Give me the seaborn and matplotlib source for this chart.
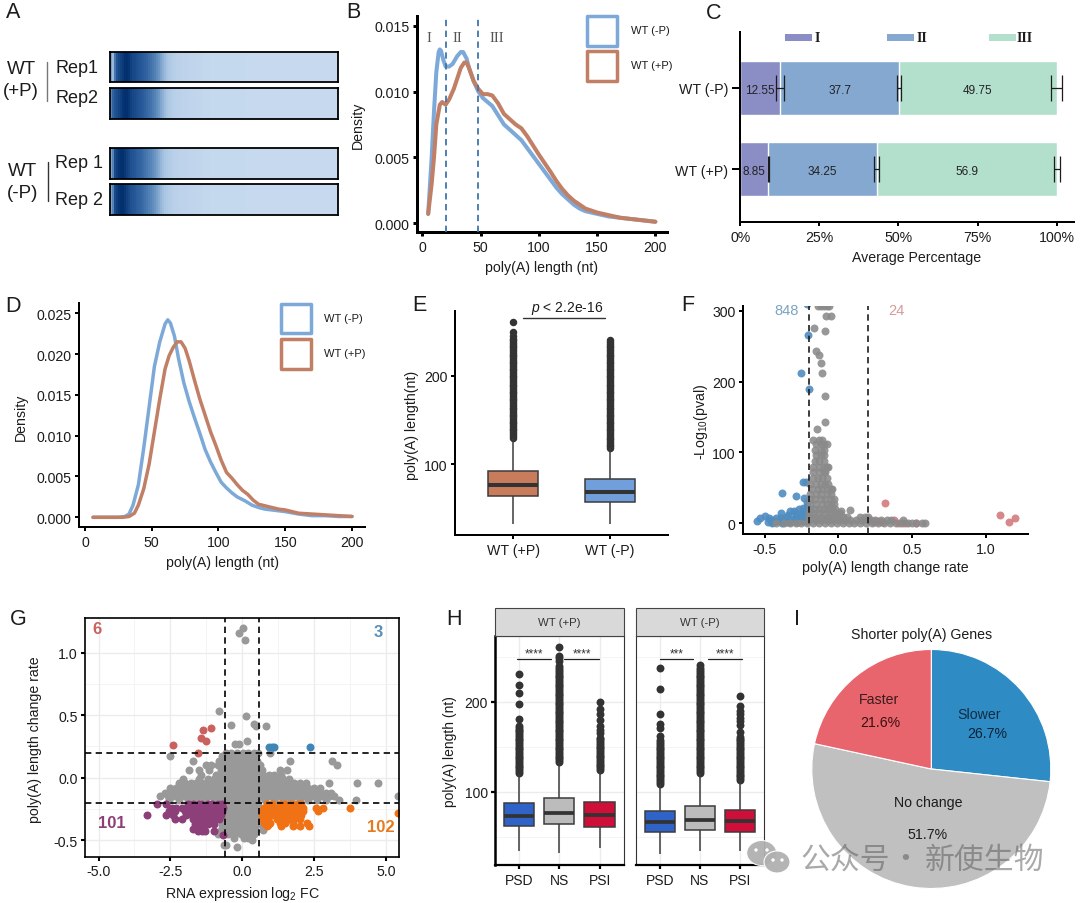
import numpy as np
import pandas as pd
import matplotlib
matplotlib.use("Agg")
import matplotlib.pyplot as plt
from matplotlib.colors import LinearSegmentedColormap
from matplotlib.patches import Rectangle, Ellipse
from matplotlib.transforms import Affine2D
import seaborn as sns

W, H = 1080, 904
sns.set_theme(style="ticks")
plt.rcParams["font.family"] = ["Liberation Sans", "DejaVu Sans"]
plt.rcParams["mathtext.fontset"] = "custom"
plt.rcParams["mathtext.rm"] = "Liberation Sans"
plt.rcParams["mathtext.it"] = "Liberation Sans:italic"
plt.rcParams["mathtext.bf"] = "Liberation Sans:bold"
plt.rcParams["text.color"] = "#1c1c1c"
plt.rcParams["axes.labelcolor"] = "#1c1c1c"
plt.rcParams["xtick.labelcolor"] = "#1c1c1c"
plt.rcParams["ytick.labelcolor"] = "#1c1c1c"

BLUE = "#7da9d9"
BROWN = "#c17f65"

# ---------- A: tail-length heat strips (2 nt-wide cells along the strip) ----------
heat_head_a = [.42, .30, .62, .80, .86, .90, .94, 1.0, 1.0, .97, .90, .87, .85, .83, .80, .78, .75, .73, .70,
               .67, .64, .60, .56, .51, .46, .40, .35, .30, .26, .22, .19, .16, .14, .12, .11, .10]
heat_head_b = [.55, .72, .80, .84, .88, .92, .97, 1.0, 1.0, .96, .90, .87, .85, .83, .80, .78, .75, .72, .69,
               .66, .63, .59, .55, .50, .45, .39, .34, .29, .25, .21, .18, .15, .13, .12, .11, .10]
heat_head_c = [.40, .55, .85, .92, .97, 1.0, 1.0, .96, .90, .86, .82, .80, .77, .74, .72, .70, .67, .64, .60,
               .57, .54, .50, .46, .42, .37, .32, .28, .24, .21, .18, .16, .14, .12, .11, .10, .09]
heat_tail = [.09, .09, .08, .08, .07, .07, .07, .06, .06, .06, .05, .05, .05, .05, .04, .04, .04, .04, .04, .04,
             .03, .03, .03, .03, .03, .03, .03, .03, .03, .03, .03, .03, .02, .02, .02, .02, .02, .02, .02, .02,
             .02, .02, .02, .02, .02, .02, .02, .02, .02, .02, .02, .02, .02, .02, .02, .02, .02, .02, .02, .02,
             .02, .02, .02, .02, .02, .02, .02, .02, .02, .02, .02, .02, .02, .02, .02, .02, .02, .02]
heat_rows = [heat_head_a, heat_head_b, heat_head_c, heat_head_c]

# ---------- B: global density ----------
b_x_minus = [5, 8, 10, 12, 14, 15, 16, 18, 20, 23, 26, 30, 33, 35, 38, 40, 44, 48, 52, 56, 60, 65, 70, 75, 80, 85,
             90, 95, 100, 105, 110, 115, 120, 125, 130, 135, 140, 145, 150, 160, 170, 180, 190, 200]
b_y_minus = [.0007, .005, .0085, .0115, .0130, .0132, .0131, .0124, .0119, .0119, .0121, .0127, .0130, .0130,
             .0125, .0118, .0108, .0100, .0095, .0092, .0089, .0082, .0075, .0071, .0067, .0063, .0057, .0051, .0045,
             .0039, .0033, .0027, .0022, .0018, .0014, .0011, .0009, .0008, .0007, .0005, .0004, .0003, .0002, .0001]
b_x_plus = [5, 8, 10, 12, 15, 17, 20, 23, 27, 30, 33, 36, 38, 40, 44, 48, 52, 56, 60, 65, 70, 75, 80, 85, 90, 95, 100,
            105, 110, 115, 120, 125, 130, 135, 140, 145, 150, 160, 170, 180, 190, 200]
b_y_plus = [.0007, .003, .005, .0075, .0090, .0092, .0090, .0094, .0102, .0110, .0118, .0122, .0122, .0118, .0108,
            .0102, .0098, .0098, .0097, .0091, .0083, .0079, .0075, .0072, .0066, .0059, .0052, .00455, .0039, .0032,
            .0026, .0021, .0017, .0014, .0011, .00095, .0008, .0006, .0004, .0003, .0002, .0001]

# ---------- C: stacked percentage of tail classes ----------
c_conditions = ["WT (-P)", "WT (+P)"]
c_class_i = [12.55, 8.85]
c_class_ii = [37.7, 34.25]
c_class_iii = [49.75, 56.9]
c_err_i = [1.27, 0.2]
c_err_ii = [0.58, 0.8]
c_err_iii = [1.8, 0.95]

# ---------- D: density after filtering ----------
d_x_minus = [6, 25, 30, 33, 36, 40, 44, 48, 52, 56, 60, 62, 64, 67, 70, 74, 78, 82, 86, 90, 94, 98, 102, 106, 110,
             114, 120, 125, 130, 135, 140, 145, 150, 160, 170, 180, 190, 200]
d_y_minus = [0, 0, .0001, .0004, .0015, .004, .0085, .0135, .0185, .0215, .0237, .0242, .0238, .0222, .0195, .0165,
             .0142, .0122, .0103, .0083, .0068, .0055, .0043, .0036, .003, .0025, .002, .0015, .0012, .001, .0009,
             .0008, .0007, .0004, .0002, .0002, .0001, .0001]
d_x_plus = [6, 28, 33, 37, 40, 44, 48, 52, 56, 60, 63, 66, 69, 72, 75, 78, 82, 86, 90, 94, 98, 102, 106, 110, 114,
            118, 122, 126, 130, 135, 140, 145, 150, 155, 160, 170, 180, 190, 200]
d_y_plus = [0, 0, .0001, .0005, .0015, .0035, .0065, .0105, .0145, .0182, .0198, .0208, .0215, .0215, .0207, .0192,
            .0168, .0145, .0125, .0105, .0088, .007, .0055, .0048, .004, .0033, .0028, .0021, .0016, .0014, .0012,
            .001, .0009, .0007, .0005, .0004, .0003, .0002, .0001]

# ---------- E: box summaries (low, q1, median, q3, high) and outliers ----------
e_groups = ["WT (+P)", "WT (-P)"]
e_box_plus = [32, 64, 76.5, 92, 130]
e_box_minus = [32, 57, 68, 83, 118]
e_out_plus = [130, 132, 134, 136, 138, 140, 142, 144, 146, 148, 150, 152, 154, 156, 158, 160, 162, 164, 166, 168,
              170, 172, 174, 176, 178, 180, 182, 184, 186, 188, 190, 192, 194, 196, 198, 200, 202, 204, 206, 208,
              210, 212, 214, 216, 218, 220, 222, 224, 226, 228, 230, 232, 234, 236, 238, 240, 242, 245, 249, 261]
e_out_minus = [118, 120, 122, 124, 126, 128, 130, 132, 134, 136, 138, 140, 142, 144, 146, 148, 150, 152, 154, 156,
               158, 160, 162, 164, 166, 168, 170, 172, 174, 176, 178, 180, 182, 184, 186, 188, 190, 192, 194, 196,
               198, 200, 202, 204, 206, 208, 210, 212, 214, 216, 218, 220, 222, 224, 226, 228, 230, 232, 234, 236,
               238, 241]

# ---------- F: volcano ----------
f_gray_rows = [
    (1, [-.42, -.37, -.33, -.29, -.25, -.21, -.17, -.13, -.09, -.05, -.01, .03, .07, .11, .15, .19, .23, .27, .31,
         .35, .39, .43, .47, .5, .53, .57, .59]),
    (5, [-.2, -.16, -.12, -.08, -.04, 0, .04, .08, .12, .16, .2, .25, .29, .33, .36, .44]),
    (9, [-.2, -.16, -.12, -.08, -.04, -.01, .03, .06, .15, .18, .2]),
    (14, [-.2, -.17, -.13, -.09, -.05, -.02, .01]),
    (20, [-.19, -.16, -.13, -.1, -.07, -.04, -.02]),
    (27, [-.19, -.15, -.11, -.08, -.05, -.03]),
    (34, [-.19, -.16, -.12, -.09, -.05, -.03]),
    (41, [-.19, -.15, -.12, -.08, -.05]),
    (48, [-.18, -.14, -.11, -.08, -.05, -.04]),
    (56, [-.19, -.15, -.12, -.09, -.07]),
    (64, [-.17, -.14, -.11, -.08]),
    (72, [-.17, -.13, -.1, -.09]),
    (80, [-.17, -.13, -.1, -.08, -.07]),
    (88, [-.16, -.13, -.1]),
    (96, [-.15, -.12, -.1]),
    (104, [-.16, -.12, -.1]),
    (112, [-.15, -.12, -.1, -.08]),
    (118, [-.17, -.13, -.11]),
    (17, [.02]), (19, [.08]),
    (133, [-.145]), (143, [-.088]), (180, [-.088]), (212, [-.109]), (226, [-.118]), (237, [-.131]), (243, [-.152]),
    (271, [-.093]), (276, [-.163]), (292, [-.086]), (293, [-.05]),
    (307, [-.14, -.12, -.1, -.08, -.065]),
]
f_blue_x = [-.55, -.53, -.5, -.48, -.46, -.44, -.42, -.4, -.38, -.37, -.35, -.33, -.31, -.29, -.28, -.26, -.25, -.24,
            -.22, -.21, -.39, -.33, -.3, -.27, -.24, -.22, -.21, -.2, -.23, -.21, -.385, -.285, -.24, -.22, -.25,
            -.205, -.2, -.21, -.47, -.43, -.39, -.35, -.31, -.27, -.23, -.29, -.25, -.21, -.34, -.45, -.24, -.21]
f_blue_y = [4, 7, 11, 2, 5, 2, 7, 3, 1, 5, 9, 2, 6, 10, 2, 6, 13, 3, 8, 4, 15, 17, 18, 20, 14, 18, 24, 11, 36, 30,
            43, 39, 59, 58, 212, 265, 190, 309, 8, 4, 7, 2, 3, 3, 3, 14, 10, 14, 12, 1, 21, 20]
f_red_x = [.32, 1.10, 1.16, 1.20, .22, .25, .27, .3, .38, .41, .45, .53, .24]
f_red_y = [29, 12, 2, 8, 5, 4, 4, 2, 5, 1, 1, 1, 2]

# ---------- G: tail change against expression change ----------
g_gray_rows = [
    (1.16, [-.13]), (1.20, [.03]), (1.10, [.09]), (.53, [-.82]), (.49, [.12]), (.42, [-.38]), (.43, [.4]),
    (.41, [.48, .82]), (.29, [.18]), (.27, [-.25, -.12]),
    (.2, [-.55, -.4, -.2, .02, .2, .4, .55, .95]),
    (.17, [-2.5, -.7, -.5, -.33, -.15, .06, .25, .45]),
    (.13, [-1.7, -.8, -.62, -.45, -.25, -.05, .15, .35, .5, 1.65, 3.13]),
    (.1, [-1.25, -1.1, -.85, -.6, -.4, -.2, 0, .2, .4, .6, 3.3]),
    (.06, [-1.85, -1.5, -1.15, -.75, -.55, -.32, -.1, .12, .3, .5, .7, 1.3, 1.55]),
    (.02, [-1.45, -.9, -.7, -.5, -.3, -.1, .1, .3, .5, .72, .92, 1.12, 1.35]),
    (-.01, [-2.07, -1.5, -1.2, -1.0, -.8, -.6, -.4, -.2, 0, .2, .4, .6, .8, 1.0, 1.2, 1.4, 1.62]),
    (-.04, [-2.2, -1.98, -1.8, -1.6, -1.4, -1.22, -1.0, -.8, -.6, -.4, -.2, 0, .22, .4, .6, .8, 1.0, 1.2, 1.42, 1.6,
            1.8, 2.0, 2.2, 3.0, 4.0, 4.72]),
    (-.08, [-2.5, -2.3, -2.1, -1.9, -1.7, -1.5, -1.3, -1.1, -.9, -.7, -.5, -.3, -.1, .1, .3, .5, .7, .9, 1.1, 1.3,
            1.5, 1.7, 1.9, 2.1, 2.3, 2.5, 2.7]),
    (-.12, [-2.7, -2.5, -2.32, -2.1, -1.92, -1.7, -1.5, -1.3, -1.1, -.9, -.7, -.5, -.3, -.1, .1, .3, .5, .7, .9, 1.1,
            1.3, 1.5, 1.7, 1.9, 2.1, 2.3, 2.5, 2.7, 2.9, 3.1]),
    (-.15, [-2.85, -2.6, -2.4, -2.2, -2.0, -1.8, -1.6, -1.4, -1.2, -1.0, -.8, -.6, -.4, -.2, 0, .2, .4, .6, .8, 1.0,
            1.2, 1.4, 1.6, 1.8, 2.0, 2.2, 2.4, 2.6, 2.8, 3.0, 3.2, 5.4]),
    (-.18, [-2.55, -2.2, -1.9, -1.6, -1.3, -1.0, -.7, -.5, -.3, -.1, .1, .3, .5, .8, 1.1, 1.4, 1.7, 2.0, 2.3, 2.6,
            2.9, 3.35, 3.97]),
    (-.22, [-.55, -.36, -.18, 0, .18, .36, .55]),
    (-.26, [-.6, -.4, -.2, -.02, .16, .36, .56]),
    (-.3, [-.58, -.38, -.18, .02, .2, .4, .6]),
    (-.34, [-.62, -.42, -.22, -.02, .18, .38, .6]),
    (-.38, [-.7, -.52, -.32, -.12, .08, .28, .48, .68, .9]),
    (-.42, [-.75, -.55, -.35, -.15, .05, .25, .45, .72]),
    (-.45, [-.85, -.5, -.28, -.05, .15, .4]),
    (-.48, [-.3, .05, .2]), (-.5, [.35]), (-.54, [-.65, -.55]), (-.555, [-.2]),
]
g_purple_rows = [
    (-.21, [-2.98, -2.66, -1.9, -1.7, -1.5, -1.42, -1.2, -1.05, -.85, -.7]),
    (-.24, [-2.45, -2.3, -2.1, -1.9, -1.75, -1.55, -1.4, -1.2, -1.0, -.85, -.68]),
    (-.27, [-2.55, -2.35, -2.0, -1.8, -1.6, -1.45, -1.25, -1.05, -.9, -.7]),
    (-.3, [-3.33, -2.66, -2.4, -1.95, -1.75, -1.55, -1.35, -1.15, -.95, -.75]),
    (-.33, [-2.34, -2.1, -1.7, -1.5, -1.3, -1.1, -.95, -.8]),
    (-.37, [-1.65, -1.45, -1.2, -1.0]),
    (-.41, [-1.7, -1.55, -1.35]),
    (-.43, [-1.55, -1.4, -1.3, -1.0]),
    (-.46, [-.68]),
]
g_orange_rows = [
    (-.21, [.85, 1.05, 1.3, 1.5, 1.7, 1.9, 2.05]),
    (-.24, [.75, .95, 1.15, 1.35, 1.55, 1.75, 1.95, 2.1, 2.55, 2.82, 3.74]),
    (-.27, [.7, .9, 1.1, 1.3, 1.5, 1.7, 1.9, 2.1, 2.65]),
    (-.28, [5.42]),
    (-.3, [.7, .85, 1.05, 1.25, 1.45, 1.65, 1.85, 2.05]),
    (-.33, [.72, .9, 1.2, 1.4, 1.6, 1.8, 2.0]),
    (-.36, [.75, .95, 1.3, 1.5, 1.75, 2.25]),
    (-.39, [.85, 1.34, 1.77, 2.0, 2.33]),
]
g_blue_x = [.93, 1.03, 1.12, 2.36]
g_blue_y = [.245, .245, .245, .245]
g_red_x = [-2.4, -1.55, -1.35, -1.1, -1.42, -1.25]
g_red_y = [.26, .2, .38, .4, .32, .29]

# ---------- H: box summaries per facet ----------
h_groups = ["PSD", "NS", "PSI"]
h_plus_psd = [34, 62, 73, 87, 120]
h_plus_ns = [32, 64, 76, 92.6, 133]
h_plus_psi = [38, 61, 74, 88, 124]
h_minus_psd = [31, 55.6, 66, 79, 109]
h_minus_ns = [33.7, 57, 68.5, 84, 121]
h_minus_psi = [34.4, 55.6, 67, 80, 113]
h_out_plus_psd = [121, 123, 125, 127, 129, 131, 133, 135, 137, 139, 141, 143, 145, 147, 149, 151, 153, 155, 157, 159,
                  161, 163, 165, 167, 169, 171, 173, 181, 197, 210, 218, 231]
h_out_plus_ns = [133, 135, 137, 139, 141, 143, 145, 147, 149, 151, 153, 155, 157, 159, 161, 163, 165, 167, 169, 171,
                 173, 175, 177, 179, 181, 183, 185, 187, 189, 191, 193, 195, 197, 199, 201, 203, 205, 207, 209, 211,
                 213, 215, 217, 219, 221, 223, 225, 227, 229, 231, 233, 235, 237, 240, 245, 248, 251, 261]
h_out_plus_psi = [124, 126, 128, 130, 132, 134, 136, 138, 140, 142, 144, 146, 148, 150, 152, 154, 156, 158, 160, 165,
                  169, 173, 180, 186, 192, 200]
h_out_minus_psd = [109, 111, 113, 115, 117, 119, 121, 123, 125, 127, 129, 131, 133, 135, 137, 139, 141, 143, 145,
                   147, 149, 151, 153, 155, 157, 162, 171, 175, 186, 214, 237]
h_out_minus_ns = [121, 123, 125, 127, 129, 131, 133, 135, 137, 139, 141, 143, 145, 147, 149, 151, 153, 155, 157, 159,
                  161, 163, 165, 167, 169, 171, 173, 175, 177, 179, 181, 183, 185, 187, 189, 191, 193, 195, 197, 199,
                  201, 203, 205, 207, 209, 211, 213, 215, 217, 219, 221, 223, 225, 227, 229, 231, 233, 235, 237, 241]
h_out_minus_psi = [113, 115, 117, 119, 121, 123, 125, 127, 129, 131, 133, 135, 137, 139, 141, 143, 145, 147, 149,
                   151, 153, 155, 157, 159, 161, 166, 174, 178, 182, 186, 190, 195, 206]

# ---------- I: pie ----------
i_labels = ["Slower", "No change", "Faster"]
i_shares = [26.7, 51.7, 21.6]
i_colors = ["#2f8bc4", "#c0c0c0", "#e8656d"]

fig = plt.figure(figsize=(W / 100, H / 100), dpi=100, facecolor="white")
PX = Affine2D().scale(1, -1).translate(0, H)  # pixel coordinates, origin top-left


def ax_at(l, t, r, b):
    ax = fig.add_axes([l / W, 1 - b / H, (r - l) / W, (b - t) / H])
    ax.patch.set_alpha(0)
    return ax


def ftext(x, y, s, size=9, ha="center", va="center", **kw):
    return fig.text(x, y, s, transform=PX, fontsize=size, ha=ha, va=va, **kw)


def vline_px(x, y0, y1, color, lw=1.0):
    fig.add_artist(plt.Line2D([x, x], [y0, y1], transform=PX, color=color, lw=lw))


def legend_box(x0, y0, x1, y1, color, label, lx):
    fig.add_artist(Rectangle((x0, y0), x1 - x0, y1 - y0, transform=PX, fill=False, edgecolor=color, lw=2.5,
                             joinstyle="round"))
    ftext(lx, (y0 + y1) / 2 - 0.5, label, size=8, ha="left")


def classic(ax, spine_px=2.0, xlabel=None, ylabel=None, xl_pos=None, yl_pos=None, size=10.2):
    sns.despine(ax=ax)
    for s in ("left", "bottom"):
        ax.spines[s].set_linewidth(spine_px * 0.72)
        ax.spines[s].set_color("black")
    ax.tick_params(width=spine_px * 0.72, length=3, labelsize=size, pad=2.5, color="black")
    ax.set_xlabel(xlabel or "", fontsize=size)
    ax.set_ylabel(ylabel or "", fontsize=size)
    if xl_pos:
        ax.xaxis.set_label_coords(*xl_pos, transform=PX)
    if yl_pos:
        ax.yaxis.set_label_coords(*yl_pos, transform=PX)


def flatten(rows):
    xs = [x for y, row in rows for x in row]
    ys = [y for y, row in rows for _ in row]
    return xs, ys


def boxes_with_fliers(ax, groups, summaries, fliers, colors, width, dot=5.4, median=2.7):
    long_box = pd.DataFrame({"group": [g for g, s in zip(groups, summaries) for _ in s],
                             "value": [v for s in summaries for v in s]})
    long_out = pd.DataFrame({"group": [g for g, s in zip(groups, fliers) for _ in s],
                             "value": [v for s in fliers for v in s]})
    sns.stripplot(data=long_out, x="group", y="value", order=groups, jitter=False, color="#333333",
                  size=dot, linewidth=0, ax=ax, zorder=2)
    sns.boxplot(data=long_box, x="group", y="value", order=groups, hue="group", hue_order=groups,
                palette=colors, legend=False, whis=(0, 100), width=width, showcaps=False, showfliers=False,
                linewidth=1.1, linecolor="#3c3c3c", saturation=1, ax=ax,
                medianprops=dict(linewidth=median, color="#333333"), zorder=3)


# ---------- panel letters ----------
for letter, lx, ly in [("A", 13, 13), ("B", 353, 13), ("C", 714, 14), ("D", 13, 307), ("E", 419, 306),
                       ("F", 688, 306), ("G", 18, 620), ("H", 454, 620), ("I", 797, 620)]:
    ftext(lx, ly, letter, size=15.5)

# ---------- A ----------
heat_cmap = LinearSegmentedColormap.from_list("tail", ["#c9dbf0", "#a9c5e2", "#5f8dbd", "#2a5c9c", "#03306e"])
for (top, bottom), head in zip([(52.5, 83), (89, 120), (149, 180), (185, 216)], heat_rows):
    ax = ax_at(110, top, 338, bottom)
    sns.heatmap(np.array([head + heat_tail]), ax=ax, cmap=heat_cmap, vmin=0, vmax=1, cbar=False,
                xticklabels=False, yticklabels=False)
    for s in ax.spines.values():
        s.set_visible(True)
        s.set_linewidth(1.3)
        s.set_color("black")
ftext(21, 70, "WT", size=13.5)
ftext(21, 92, "(+P)", size=13.5)
ftext(22, 172, "WT", size=13.5)
ftext(23, 194, "(-P)", size=13.5)
ftext(77, 69, "Rep1", size=13)
ftext(77, 99, "Rep2", size=13)
ftext(79, 164, "Rep 1", size=13)
ftext(79, 201, "Rep 2", size=13)
vline_px(47, 63, 102, "#777777", 1.0)
vline_px(48, 163, 202, "#333333", 1.0)

# ---------- B ----------
ax = ax_at(417, 17, 667, 233)
sns.lineplot(x=b_x_minus, y=b_y_minus, color=BLUE, lw=2.9, ax=ax, errorbar=None)
sns.lineplot(x=b_x_plus, y=b_y_plus, color=BROWN, lw=2.9, ax=ax, errorbar=None)
for xv in (20, 48):
    ax.axvline(xv, color="#3f75ab", lw=1.3, ls=(0, (3.5, 2.5)), zorder=3)
ax.set_xlim(-4.6, 210)
ax.set_ylim(-0.00068, 0.01574)
ax.set_xticks([0, 50, 100, 150, 200])
ax.set_yticks([0, .005, .01, .015], ["0.000", "0.005", "0.010", "0.015"])
classic(ax, 3.0, "poly(A) length (nt)", "Density", (541.7, 268), (358, 125))
ax.xaxis.label.set_verticalalignment("center")
ax.yaxis.label.set_verticalalignment("center")
for lab, xp in (("I", 429), ("II", 457), ("III", 497)):
    ftext(xp, 39, lab, size=10.5, family="Liberation Serif", color="#555555")
legend_box(587, 17, 617, 47, BLUE, "WT (-P)", 631)
legend_box(587, 52, 617, 82, BROWN, "WT (+P)", 631)

# ---------- C ----------
ax = ax_at(740, 33, 1074, 223)
cum_i = np.array(c_class_i)
cum_ii = cum_i + np.array(c_class_ii)
cum_iii = cum_ii + np.array(c_class_iii)
for cum, col in ((cum_iii, "#b3e0cd"), (cum_ii, "#84a8d0"), (cum_i, "#8b8dc5")):
    sns.barplot(x=cum, y=c_conditions, order=c_conditions, color=col, saturation=1, width=0.667, ax=ax, orient="h")
for cum, err in ((cum_i, c_err_i), (cum_ii, c_err_ii), (cum_iii, c_err_iii)):
    ax.errorbar(cum, [0, 1], xerr=err, fmt="none", ecolor="#1c1c1c", elinewidth=0.9, capsize=9.2, capthick=0.9,
                zorder=5)
for row in (0, 1):
    centers = [cum_i[row] / 2, cum_i[row] + c_class_ii[row] / 2, cum_ii[row] + c_class_iii[row] / 2]
    values = [c_class_i[row], c_class_ii[row], c_class_iii[row]]
    for xc, val in zip(centers, values):
        ax.text(xc, row + 0.03, f"{val:g}", ha="center", va="center", fontsize=8.5, color="#222222", zorder=6)
ax.set_xlim(-0.1, 105.5)
ax.set_ylim(1.654, -0.691)
ax.set_xticks([0, 25, 50, 75, 100], ["0%", "25%", "50%", "75%", "100%"])
classic(ax, 2.0, "Average Percentage", "", (917, 258))
ax.tick_params(axis="y", length=5.8)
ax.xaxis.label.set_verticalalignment("center")
for x0, lab, tx in ((785, "I", 817), (887, "II", 922), (989, "III", 1025)):
    fig.add_artist(Rectangle((x0, 35), 27, 7, transform=PX, color={"I": "#8b8dc5", "II": "#84a8d0", "III": "#b3e0cd"}[lab], lw=0))
    ftext(tx, 39, lab, size=10, family="Liberation Serif", weight="bold")

# ---------- D ----------
ax = ax_at(79.3, 304, 365, 528)
sns.lineplot(x=d_x_minus, y=d_y_minus, color=BLUE, lw=2.5, ax=ax, errorbar=None)
sns.lineplot(x=d_x_plus, y=d_y_plus, color=BROWN, lw=2.5, ax=ax, errorbar=None)
ax.set_xlim((79.3 - 85) / 1.335, (365 - 85) / 1.335)
ax.set_ylim((518.3 - 528) / 8160, (518.3 - 304) / 8160)
ax.set_xticks([0, 50, 100, 150, 200])
ax.set_yticks([0, .005, .01, .015, .02, .025], ["0.000", "0.005", "0.010", "0.015", "0.020", "0.025"])
classic(ax, 2.0, "poly(A) length (nt)", "Density", (222.7, 563), (20.7, 417))
ax.xaxis.label.set_verticalalignment("center")
ax.yaxis.label.set_verticalalignment("center")
legend_box(281, 305, 311, 334, BLUE, "WT (-P)", 324)
legend_box(281, 340, 311, 370, BROWN, "WT (+P)", 324)

# ---------- E ----------
ax = ax_at(455, 312, 668, 536)
boxes_with_fliers(ax, e_groups, [e_box_plus, e_box_minus], [e_out_plus, e_out_minus], ["#c97c5b", "#709fdc"], 0.51,
                  dot=5.4, median=2.9)
ax.set_xlim(-0.598, 1.598)
ax.set_ylim(19.6, 273.3)
ax.set_yticks([100, 200])
classic(ax, 2.0, "", "poly(A) length(nt)", None, (412, 425))
ax.yaxis.label.set_verticalalignment("center")
ftext(567, 309, r"$\it{p}$ < 2.2e-16", size=10)
fig.add_artist(plt.Line2D([523, 605], [319, 319], transform=PX, color="#333333", lw=1.0))

# ---------- F ----------
ax = ax_at(743, 307, 1028, 535)
sns.scatterplot(x=f_red_x, y=f_red_y, color="#d47a7e", s=33, linewidth=0, alpha=.9, ax=ax)
sns.scatterplot(x=f_blue_x, y=f_blue_y, color="#4f8cc0", s=33, linewidth=0, alpha=.9, ax=ax)
fx, fy = flatten(f_gray_rows)
sns.scatterplot(x=fx, y=fy, color="#8a8a8a", s=33, linewidth=0, alpha=.88, ax=ax)
for xv in (-0.2, 0.2):
    ax.axvline(xv, color="#1c1c1c", lw=1.2, ls=(0, (3.8, 2.6)), zorder=4)
ax.set_xlim(-0.647, 1.288)
ax.set_ylim(-15, 306.5)
ax.set_xticks([-0.5, 0, 0.5, 1.0], ["-0.5", "0.0", "0.5", "1.0"])
ax.set_yticks([0, 100, 200, 300])
classic(ax, 2.0, "poly(A) length change rate", "-Log$_{10}$(pval)", (885, 568), (701, 422))
ax.xaxis.label.set_verticalalignment("center")
ax.yaxis.label.set_verticalalignment("center")
ftext(786.7, 311, "848", size=10.5, color="#7ba4c0")
ftext(896.7, 311, "24", size=10.5, color="#d69b9b")

# ---------- G ----------
ax = ax_at(85.3, 619, 399, 857.7)
ax.set_axisbelow(True)
ax.set_xticks([-3.75, -1.25, 1.25, 3.75], minor=True)
ax.set_yticks([-.25, .25, .75], minor=True)
ax.grid(True, which="major", color="#ececec", lw=1.0)
ax.grid(True, which="minor", color="#f2f2f2", lw=0.6)
gx, gy = flatten(g_gray_rows)
px_, py_ = flatten(g_purple_rows)
ox_, oy_ = flatten(g_orange_rows)
sns.scatterplot(x=gx, y=gy, color="#999999", s=33, linewidth=0, ax=ax, zorder=2)
sns.scatterplot(x=px_, y=py_, color="#8c3f78", s=33, linewidth=0, ax=ax, zorder=2)
sns.scatterplot(x=ox_, y=oy_, color="#f07214", s=33, linewidth=0, ax=ax, zorder=2)
sns.scatterplot(x=g_blue_x, y=g_blue_y, color="#3f85b8", s=33, linewidth=0, ax=ax, zorder=2)
sns.scatterplot(x=g_red_x, y=g_red_y, color="#c9625f", s=33, linewidth=0, ax=ax, zorder=2)
for xv in (-0.585, 0.585):
    ax.axvline(xv, color="black", lw=1.2, ls=(0, (3.8, 2.6)), zorder=4)
for yv in (-0.2, 0.2):
    ax.axhline(yv, color="black", lw=1.2, ls=(0, (3.8, 2.6)), zorder=4)
ax.set_xlim(-5.46, 5.45)
ax.set_ylim(-0.632, 1.278)
ax.set_xticks([-5, -2.5, 0, 2.5, 5], ["-5.0", "-2.5", "0.0", "2.5", "5.0"])
ax.set_yticks([-.5, 0, .5, 1], ["-0.5", "0.0", "0.5", "1.0"])
for s in ax.spines.values():
    s.set_visible(True)
    s.set_linewidth(1.2)
    s.set_color("black")
ax.tick_params(which="major", width=1.5, length=3, labelsize=10.2, pad=2.5, color="black")
ax.tick_params(which="minor", length=0)
ax.set_xlabel("RNA expression log$_2$ FC", fontsize=10.2)
ax.set_ylabel("poly(A) length change rate", fontsize=10.2)
ax.xaxis.set_label_coords(242.7, 894, transform=PX)
ax.yaxis.set_label_coords(35, 740, transform=PX)
ax.xaxis.label.set_verticalalignment("center")
ax.yaxis.label.set_verticalalignment("center")
ftext(97, 630, "6", size=12, weight="bold", color="#c9625f")
ftext(378, 633, "3", size=12, weight="bold", color="#5a8eb8")
ftext(112, 824, "101", size=12, weight="bold", color="#8c3f78")
ftext(381, 828, "102", size=12, weight="bold", color="#e67a1e")

# ---------- H ----------
h_colors = ["#2f63c8", "#bcbcbc", "#cf0f3a"]
h_panels = [
    (495, 623.7, "WT (+P)", [h_plus_psd, h_plus_ns, h_plus_psi], [h_out_plus_psd, h_out_plus_ns, h_out_plus_psi],
     [(-0.06, 0.79, "****"), (1.12, 1.99, "****")]),
    (635.7, 764, "WT (-P)", [h_minus_psd, h_minus_ns, h_minus_psi],
     [h_out_minus_psd, h_out_minus_ns, h_out_minus_psi],
     [(0.0, 0.84, "***"), (1.2, 2.06, "****")]),
]
for idx, (left, right, title, summaries, fliers, brackets) in enumerate(h_panels):
    ax = ax_at(left, 636.7, right, 865.7)
    ax.set_axisbelow(True)
    ax.set_yticks([50, 150, 250], minor=True)
    ax.grid(True, which="major", color="#ececec", lw=1.0)
    ax.grid(True, which="minor", color="#f2f2f2", lw=0.6)
    boxes_with_fliers(ax, h_groups, summaries, fliers, h_colors, 0.75, dot=5.7, median=2.7)
    for x0, x1, stars in brackets:
        ax.plot([x0, x1], [247.4, 247.4], color="#222222", lw=0.9, zorder=5)
        ax.text((x0 + x1) / 2, 246.5, stars, ha="center", va="bottom", fontsize=8.5, color="#333333")
    ax.set_xlim(-0.6, 2.6)
    ax.set_ylim(18.9, 273.3)
    ax.set_yticks([100, 200])
    ax.grid(True, axis="x", which="major", color="#ececec", lw=1.0)
    ax.set_xlabel("")
    ax.set_ylabel("")
    for name, spine in ax.spines.items():
        spine.set_visible(True)
        spine.set_color("#333333")
        spine.set_linewidth(0.8)
    ax.spines["bottom"].set_color("black")
    ax.spines["bottom"].set_linewidth(1.6)
    ax.tick_params(axis="x", width=1.6, length=3, labelsize=10, pad=3, color="black")
    if idx == 0:
        ax.spines["left"].set_color("black")
        ax.spines["left"].set_linewidth(1.8)
        ax.tick_params(axis="y", width=1.6, length=3, labelsize=10, pad=2, color="black")
        ax.set_ylabel("poly(A) length (nt)", fontsize=10)
        ax.yaxis.set_label_coords(450, 752, transform=PX)
        ax.yaxis.label.set_verticalalignment("center")
    else:
        ax.tick_params(axis="y", which="both", length=0, labelleft=False)
    ax.tick_params(axis="y", which="minor", length=0)
    fig.add_artist(Rectangle((left, 609), right - left, 27.7, transform=PX, facecolor="#d9d9d9",
                             edgecolor="#444444", lw=0.8))
    ftext((left + right) / 2, 623.5, title, size=8.2, color="#333333")

# ---------- I ----------
ax = ax_at(931.3 - 119.5, 770 - 119.5, 931.3 + 119.5, 770 + 119.5)
ax.pie(i_shares, colors=i_colors, startangle=90, counterclock=False, radius=1,
       wedgeprops=dict(edgecolor="white", linewidth=0.8))
ax.set_xlim(-1, 1)
ax.set_ylim(-1, 1)
ftext(922, 635, "Shorter poly(A) Genes", size=10.2)
ftext(879, 700, i_labels[2], size=10.2, color="#3a1c1c")
ftext(880, 723, f"{i_shares[2]}%", size=10.2, color="#3a1010")
ftext(979, 715, i_labels[0], size=10.2, color="#0f2d45")
ftext(987, 734, f"{i_shares[0]}%", size=10.2, color="#0b2236")
ftext(928, 803, i_labels[1], size=10.2)
ftext(927, 835, f"{i_shares[1]}%", size=10.2)

# ---------- publisher mark ----------
for cx, cy, rx, ry in ((761.7, 854, 15, 12.5), (777, 863, 13, 11)):
    fig.add_artist(Ellipse((cx, cy), 2 * rx, 2 * ry, transform=PX, facecolor="#b0b0b0", edgecolor="white", lw=0.8,
                           alpha=0.95))
for cx, cy in ((756, 851), (767, 851), (773, 861), (782, 861)):
    fig.add_artist(Ellipse((cx, cy), 3.4, 3.4, transform=PX, facecolor="white", lw=0))
mark_font = ["Noto Sans CJK SC", "DejaVu Sans"]
ftext(800, 860, "公众号", size=21.5, ha="left", family=mark_font, color="#555555", alpha=0.5)
ftext(905, 860, "·", size=21.5, family=mark_font, color="#555555", alpha=0.5)
ftext(925, 860, "新使生物", size=21.5, ha="left", family=mark_font, color="#555555", alpha=0.5)

fig.savefig("out.png", dpi=100, facecolor="white")
